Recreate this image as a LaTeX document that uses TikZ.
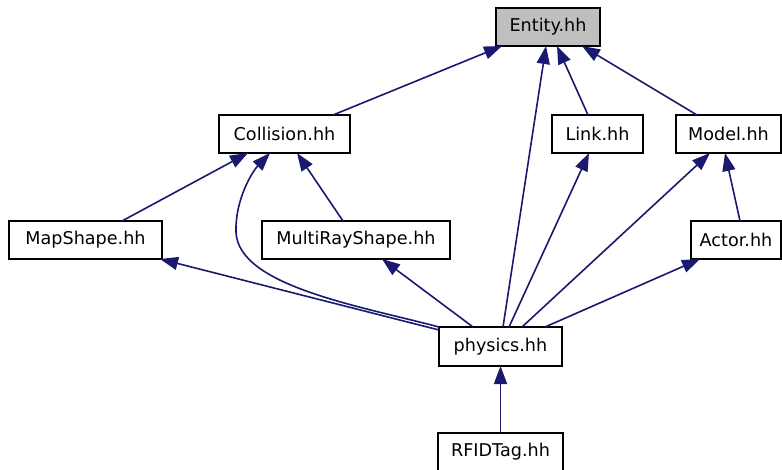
\documentclass[tikz,border=0pt]{standalone}
\usepackage{fontspec}
\setmainfont{DejaVu Sans}
\usetikzlibrary{arrows.meta}
\definecolor{edgeblue}{RGB}{25,25,112}
\definecolor{boxgray}{RGB}{191,191,191}
\tikzset{
  filebox/.style={draw=black, line width=1.6pt, fill=white, inner sep=0pt, outer sep=0pt,
    font=\fontsize{17.6}{20}\selectfont, text=black},
  dep/.style={draw=edgeblue, line width=1.6pt, -{Triangle[length=18pt,width=13pt]}},
}
\begin{document}
\begin{tikzpicture}[x=1pt,y=-1pt]
\useasboundingbox (0,0) rectangle (782,469);
\node[filebox, fill=boxgray, minimum width=104pt, minimum height=38pt] (entity) at (548,27) {Entity.hh};
\node[filebox, minimum width=131pt, minimum height=38pt] (collision) at (284.5,134) {Collision.hh};
\node[filebox, minimum width=91pt, minimum height=38pt] (link) at (597.5,134) {Link.hh};
\node[filebox, minimum width=105pt, minimum height=38pt] (model) at (728.5,134) {Model.hh};
\node[filebox, minimum width=153pt, minimum height=38pt] (mapshape) at (85.5,240) {MapShape.hh};
\node[filebox, minimum width=188pt, minimum height=38pt] (multiray) at (356,240) {MultiRayShape.hh};
\node[filebox, minimum width=90pt, minimum height=38pt] (actor) at (736,240) {Actor.hh};
\node[filebox, minimum width=123pt, minimum height=39pt] (physics) at (500.5,346.5) {physics.hh};
\node[filebox, minimum width=125pt, minimum height=38pt] (rfid) at (500.5,452) {RFIDTag.hh};

\draw[dep] ([xshift=48.5pt]collision.north) -- ([xshift=-46pt]entity.south);
\draw[dep] ([xshift=2.5pt]physics.north) -- ([xshift=-2pt]entity.south);
\draw[dep] ([xshift=-9.5pt]link.north) -- ([xshift=9pt]entity.south);
\draw[dep] ([xshift=-31.5pt]model.north) -- ([xshift=34pt]entity.south);
\draw[dep] ([xshift=36.5pt]mapshape.north) -- ([xshift=-36.5pt]collision.south);
\draw[dep] (physics.north west) .. controls (360,306) and (238,286) .. (236,232)
  .. controls (235,200) and (252,172) .. ([xshift=-14.5pt]collision.south);
\draw[dep] ([xshift=-13pt]multiray.north) -- ([xshift=12.5pt]collision.south);
\draw[dep] ([yshift=-3pt]physics.north west) -- ([xshift=-2pt]mapshape.south east);
\draw[dep] ([xshift=-27.5pt]physics.north) -- ([xshift=26pt]multiray.south);
\draw[dep] ([xshift=8.5pt]physics.north) -- ([xshift=-8.5pt]link.south);
\draw[dep] ([xshift=21.5pt]physics.north) -- ([xshift=-18.5pt]model.south);
\draw[dep] ([xshift=4pt]actor.north) -- ([xshift=-3.5pt]model.south);
\draw[dep] ([xshift=44.5pt]physics.north) -- ([xshift=-36pt]actor.south);
\draw[dep] (rfid.north) -- (physics.south);
\end{tikzpicture}
\end{document}
